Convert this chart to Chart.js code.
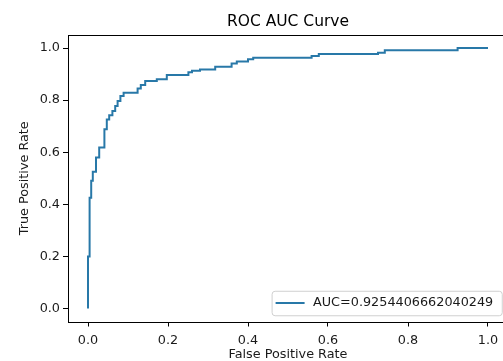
<!DOCTYPE html>
<html>
<head>
<meta charset="utf-8">
<script src="https://cdn.jsdelivr.net/npm/chart.js@4"></script>
<style>
html, body { margin: 0; padding: 0; background: #fff; overflow: hidden; }
#wrap { width: 520px; height: 361px; }
</style>
</head>
<body>
<div id="wrap"><canvas id="roc-chart" width="520" height="361"></canvas></div>
<script>
// ROC points (corners of the step curve)
const fpr = [0, 0, 0.004, 0.004, 0.008, 0.008, 0.012, 0.012, 0.02, 0.02, 0.028, 0.028,
  0.041, 0.041, 0.047, 0.047, 0.053, 0.053, 0.061, 0.061, 0.068, 0.068, 0.074, 0.074,
  0.081, 0.081, 0.089, 0.089, 0.124, 0.124, 0.132, 0.132, 0.143, 0.143, 0.172, 0.172,
  0.197, 0.197, 0.251, 0.251, 0.26, 0.26, 0.28, 0.28, 0.318, 0.318, 0.359, 0.359,
  0.372, 0.372, 0.4, 0.4, 0.413, 0.413, 0.559, 0.559, 0.577, 0.577, 0.725, 0.725,
  0.742, 0.742, 0.924, 0.924, 1.0];
const tpr = [0, 0.2, 0.2, 0.425, 0.425, 0.49, 0.49, 0.525, 0.525, 0.58, 0.58, 0.618,
  0.618, 0.688, 0.688, 0.726, 0.726, 0.742, 0.742, 0.758, 0.758, 0.777, 0.777, 0.797,
  0.797, 0.816, 0.816, 0.828, 0.828, 0.845, 0.845, 0.858, 0.858, 0.873, 0.873, 0.88,
  0.88, 0.896, 0.896, 0.907, 0.907, 0.913, 0.913, 0.918, 0.918, 0.928, 0.928, 0.941,
  0.941, 0.948, 0.948, 0.957, 0.957, 0.963, 0.963, 0.969, 0.969, 0.977, 0.977, 0.982,
  0.982, 0.991, 0.991, 1.0, 1.0];
const aucLabel = 'AUC=0.9254406662040249';
const xTickValues = [0, 0.2, 0.4, 0.6, 0.8, 1.0];
const xTickLabels = ['0.0', '0.2', '0.4', '0.6', '0.8', '1.0'];
const yTickValues = [0, 0.2, 0.4, 0.6, 0.8, 1.0];
const yTickLabels = ['0.0', '0.2', '0.4', '0.6', '0.8', '1.0'];

const lineColor = '#2878a8';
const fontFamily = "'DejaVu Sans', sans-serif";
const smallSize = 12.8;

Chart.defaults.font.family = fontFamily;
Chart.defaults.color = '#1a1a1a';

// spines + matplotlib style legend in the lower right corner
const frameAndLegend = {
    id: 'frameAndLegend',
    afterDraw(chart) {
        const { ctx, chartArea: a } = chart;
        ctx.save();
        ctx.strokeStyle = '#000';
        ctx.lineWidth = 1;
        ctx.strokeRect(Math.round(a.left) + 0.5, Math.round(a.top) + 0.5,
            Math.round(a.right - a.left), Math.round(a.bottom - a.top));

        const ds = chart.data.datasets[0];
        ctx.font = smallSize + 'px ' + fontFamily;
        const textW = ctx.measureText(ds.label).width;
        const boxRight = a.right - 6.25;
        const boxBottom = a.bottom - 6.25;
        const boxTop = boxBottom - 24.5;
        const textX = boxRight - 8.5 - textW;
        const lineEnd = textX - 8.4;
        const lineStart = lineEnd - 29;
        const boxLeft = lineStart - 4;
        const midY = (boxTop + boxBottom) / 2;

        ctx.beginPath();
        ctx.roundRect(boxLeft + 0.5, boxTop + 0.5, boxRight - boxLeft, boxBottom - boxTop, 3);
        ctx.fillStyle = 'rgba(255,255,255,0.8)';
        ctx.fill();
        ctx.strokeStyle = '#d0d0d0';
        ctx.stroke();

        ctx.beginPath();
        ctx.strokeStyle = ds.borderColor;
        ctx.lineWidth = 2;
        ctx.moveTo(lineStart, midY);
        ctx.lineTo(lineEnd, midY);
        ctx.stroke();

        ctx.fillStyle = '#1a1a1a';
        ctx.textBaseline = 'middle';
        ctx.textAlign = 'left';
        ctx.fillText(ds.label, textX, midY);
        ctx.restore();
    }
};

const tickStyle = {
    display: true,
    drawOnChartArea: false,
    drawTicks: true,
    tickLength: 5,
    color: '#000',
    lineWidth: 1
};

new Chart(document.getElementById('roc-chart').getContext('2d'), {
    type: 'scatter',
    data: {
        datasets: [{
            label: aucLabel,
            data: fpr.map((x, i) => ({ x: x, y: tpr[i] })),
            showLine: true,
            borderColor: lineColor,
            backgroundColor: lineColor,
            borderWidth: 2,
            pointRadius: 0,
            tension: 0
        }]
    },
    options: {
        responsive: false,
        animation: false,
        layout: { padding: { right: 12 } },
        plugins: {
            legend: { display: false },
            tooltip: { enabled: false },
            title: {
                display: true,
                text: 'ROC AUC Curve',
                fullSize: false,
                color: '#000',
                font: { size: 15.5, weight: 'normal' },
                padding: { top: 12.4, bottom: 4 }
            }
        },
        scales: {
            x: {
                type: 'linear',
                min: -0.05,
                max: 1.05,
                grid: tickStyle,
                border: { display: false },
                afterBuildTicks: (axis) => { axis.ticks = xTickValues.map(v => ({ value: v })); },
                afterFit: (axis) => { axis.height = 39.5; },
                ticks: {
                    padding: 6,
                    maxRotation: 0,
                    font: { size: smallSize },
                    callback: (value, index) => xTickLabels[index]
                },
                title: {
                    display: true,
                    text: 'False Positive Rate',
                    font: { size: smallSize },
                    padding: { top: 0, bottom: -1.2 }
                }
            },
            y: {
                type: 'linear',
                min: -0.05,
                max: 1.05,
                grid: tickStyle,
                border: { display: false },
                afterBuildTicks: (axis) => { axis.ticks = yTickValues.map(v => ({ value: v })); },
                afterFit: (axis) => { axis.width = 68; },
                ticks: {
                    padding: 3,
                    font: { size: smallSize },
                    callback: (value, index) => yTickLabels[index]
                },
                title: {
                    display: true,
                    text: 'True Positive Rate',
                    font: { size: smallSize },
                    padding: { top: 17.3, bottom: 0 }
                }
            }
        }
    },
    plugins: [frameAndLegend]
});
</script>
</body>
</html>
